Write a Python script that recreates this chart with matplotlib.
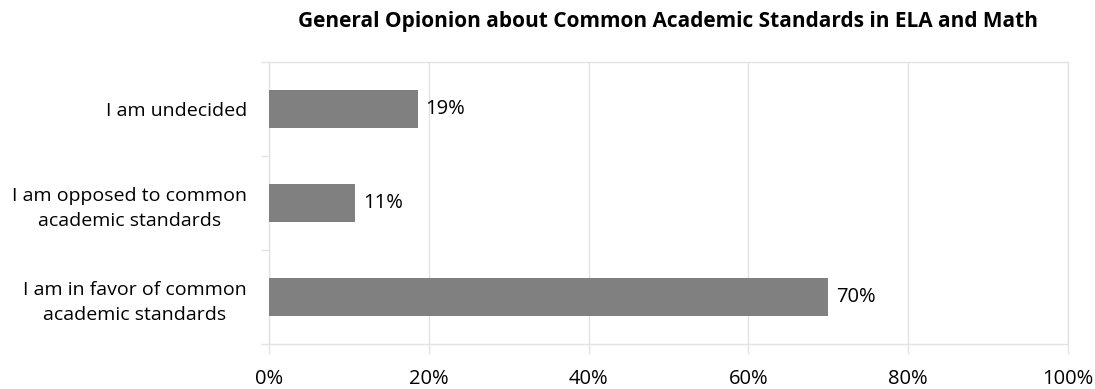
import numpy as np
import matplotlib.pyplot as plt
from matplotlib.ticker import FuncFormatter

plt.rcParams['font.family'] = ['Open Sans', 'DejaVu Sans']

# Данные
categories = ['I am in favor of common\nacademic standards',
              'I am opposed to common\nacademic standards',
              'I am undecided']
values = [70.0, 10.8, 18.6]
labels = ['70%', '11%', '19%']
title = 'General Opionion about Common Academic Standards in ELA and Math'

grid_col = '#e3e3e3'

fig = plt.figure(figsize=(10.95, 3.89), dpi=100)
ax = fig.add_axes([269 / 1095, 1 - 344 / 389, 799 / 1095, 282 / 389])

y = np.arange(len(categories))
ax.barh(y, values, height=0.4, color='#808080', zorder=3)

for yi, v, lab in zip(y, values, labels):
    ax.text(v + 1.0, yi, lab, va='center', ha='left', fontsize=14.5, color='#000000')

ax.set_xlim(0, 100)
ax.set_ylim(-0.5, len(categories) - 0.5)
ax.set_xticks(np.arange(0, 101, 20))
ax.xaxis.set_major_formatter(FuncFormatter(lambda x, p: '%d%%' % x))
ax.grid(axis='x', color=grid_col, linewidth=1, zorder=0)

# метки категорий и деления между ними
ax.set_yticks(y)
ax.set_yticklabels(categories, fontsize=14, multialignment='center', linespacing=1.5)
ax.set_yticks(np.arange(-0.5, len(categories), 1), minor=True)
ax.tick_params(axis='y', which='major', length=0, pad=16)
ax.tick_params(axis='y', which='minor', length=6, color=grid_col, width=1)
ax.tick_params(axis='x', length=7, color=grid_col, width=1, labelsize=14.5, pad=11)

for s in ax.spines.values():
    s.set_color(grid_col)
    s.set_linewidth(1)

fig.text(668 / 1095, 1 - 21 / 389, title, ha='center', va='center',
         fontsize=15, fontweight='bold')

plt.savefig('out.png', dpi=100)
